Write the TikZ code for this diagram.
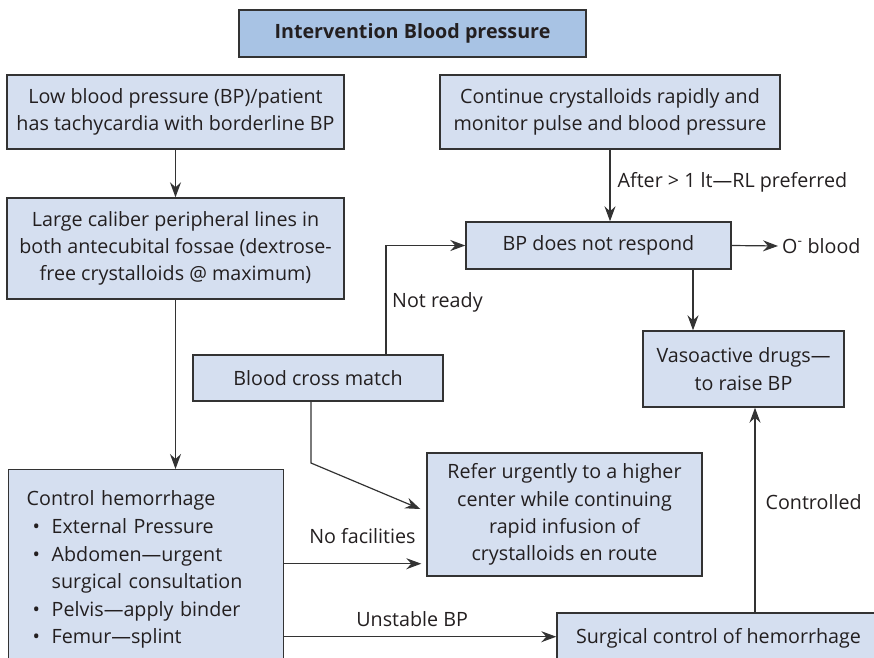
\documentclass[tikz,border=0pt]{standalone}
\usepackage{fontspec}
\setmainfont{Open Sans}
\usetikzlibrary{arrows.meta}
\definecolor{boxfill}{HTML}{D5DFF0}
\definecolor{titlefill}{HTML}{A8C3E4}
\definecolor{ink}{HTML}{231F20}
\definecolor{edge}{HTML}{333333}
\newcommand{\myfont}{\fontsize{19.7}{27.3}\selectfont}
\newcommand{\bul}{\makebox[25pt][l]{\hspace{6pt}\textbullet}}
\tikzset{
  box/.style={draw=edge, line width=1.4pt, fill=boxfill, rectangle, align=center,
    inner sep=0pt, text=ink, font=\myfont},
  lbl/.style={text=ink, font=\myfont, inner sep=2pt},
  conn/.style={draw=edge, line width=1.2pt, -{Stealth[length=15pt,width=11pt,inset=5pt]}},
}
\begin{document}
\begin{tikzpicture}[x=1pt,y=-1pt]
\useasboundingbox (0,0) rectangle (874,657);
\clip (0,0) rectangle (874,657);
\node[box, fill=titlefill, minimum width=347, minimum height=47, font=\bfseries\myfont] (title) at (412.5,33.5) {Intervention Blood pressure};
\node[box, minimum width=337, minimum height=74] (A) at (175.5,112) {Low blood pressure (BP)/patient\\has tachycardia with borderline BP};
\node[box, minimum width=337, minimum height=101] (B) at (175.5,248.5) {Large caliber peripheral lines in\\both antecubital fossae (dextrose-\\free crystalloids @ maximum)};
\node[box, minimum width=340, minimum height=74] (C) at (610,112) {Continue crystalloids rapidly and\\monitor pulse and blood pressure};
\node[box, minimum width=265, minimum height=47] (D) at (598.5,245.5) {BP does not respond};
\node[lbl, anchor=west] (oblood) at (780,246) {O\textsuperscript{-} blood};
\node[box, minimum width=250, minimum height=46] (cross) at (318,378) {Blood cross match};
\node[box, minimum width=201, minimum height=76] (vaso) at (743.5,369) {Vasoactive drugs---\\to raise BP};
\node[box, minimum width=275, minimum height=123] (refer) at (564.5,514.5) {Refer urgently to a higher\\center while continuing\\rapid infusion of\\crystalloids en route};
\node[box, anchor=north west, minimum width=275, minimum height=200, align=left,
  text width=239pt, inner xsep=18pt, font=\fontsize{19.7}{27.6}\selectfont] (ctrl) at (8,469) {Control hemorrhage\\
\bul External Pressure\\
\bul Abdomen---urgent\\
\hspace*{25pt}surgical consultation\\
\bul Pelvis---apply binder\\
\bul Femur---splint};
\node[box, minimum width=323, minimum height=50] (surg) at (718.5,638) {Surgical control of hemorrhage};

\coordinate (k1) at (311,463);

\draw[conn] (A.south) -- (B.north);
\draw[conn] (B.south) -- (B.south |- ctrl.north);
\draw[conn] (C.south) -- (C.south |- D.north)
  node[lbl, pos=0.45, anchor=west, xshift=5pt] (after) {After > 1 lt---RL preferred};
\draw[conn, shorten >=2pt] (D.east) -- (oblood.west);
\draw[conn] ([xshift=94.5pt]D.south) -- ([xshift=94.5pt]D.south |- vaso.north);
\draw[conn] ([xshift=68pt]cross.north) |- (D.west);
\node[lbl, anchor=west] (notready) at (390,302) {Not ready};
\draw[conn] ([xshift=-7pt]cross.south) -- (k1) -- ([shift={(-6pt,5.5pt)}]refer.west);
\draw[conn, shorten >=5pt] ([yshift=6pt]ctrl.east) -- ([yshift=6pt]ctrl.east -| refer.west)
  node[lbl, pos=0.55, above=17pt] (nofac) {No facilities};
\draw[conn] ([yshift=-67pt]ctrl.east) -- ([yshift=-67pt]ctrl.east -| surg.west)
  node[lbl, pos=0.47, above=7pt] (unst) {Unstable BP};
\draw[conn] ([xshift=36.5pt]surg.north) -- ([xshift=36.5pt]surg.north |- vaso.south)
  node[lbl, pos=0.54, anchor=west, xshift=8pt] (contr) {Controlled};
\end{tikzpicture}
\end{document}
